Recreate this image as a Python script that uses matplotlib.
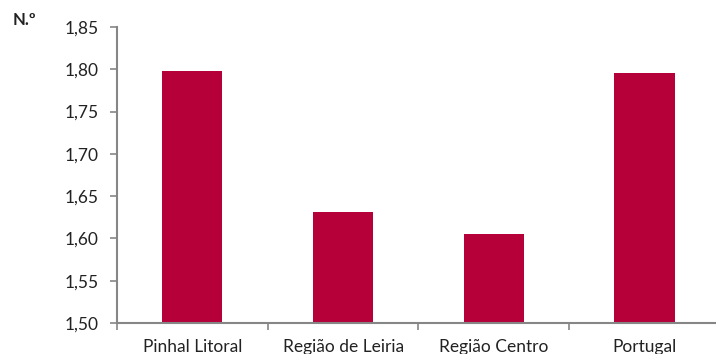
import matplotlib
matplotlib.use("Agg")
import matplotlib.pyplot as plt
import numpy as np

categories = ["Pinhal Litoral", "Região de Leiria", "Região Centro", "Portugal"]
values = [1.798, 1.631, 1.605, 1.796]
yticks = [1.50, 1.55, 1.60, 1.65, 1.70, 1.75, 1.80, 1.85]

plt.rcParams['font.family'] = ['Lato', 'DejaVu Sans']

fig = plt.figure(figsize=(7.16, 3.54), dpi=100)
ax = fig.add_axes([0.1634, 0.0876, 0.842, 0.8361])

x = np.arange(len(categories))
ax.bar(x, values, width=0.4, color="#B5003A", bottom=0)
ax.set_ylim(1.50, 1.85)
ax.set_xlim(-0.5, len(categories) - 0.5)
ax.set_yticks(yticks)
ax.set_yticklabels([f"{v:.2f}".replace(".", ",") for v in yticks], fontsize=12.5, color="#222222")

ax.set_xticks(np.arange(-0.5, len(categories) + 0.5, 1.0))
ax.set_xticklabels([])
ax.set_xticks(x, minor=True)
ax.set_xticklabels(categories, minor=True, fontsize=12.5, color="#222222")
ax.tick_params(axis="x", which="minor", length=0, pad=11.5)
ax.tick_params(axis="x", which="major", length=5, color="#868686", width=1.2, direction="out")
ax.tick_params(axis="y", length=5, color="#868686", width=1.2, direction="out", pad=8)

for s in ["top", "right"]:
    ax.spines[s].set_visible(False)
for s in ["left", "bottom"]:
    ax.spines[s].set_color("#868686")
    ax.spines[s].set_linewidth(1.5)

fig.text(0.017, 0.93, "N.º", fontsize=12, fontweight="bold", color="#222222")

fig.savefig("out.png", dpi=100)
